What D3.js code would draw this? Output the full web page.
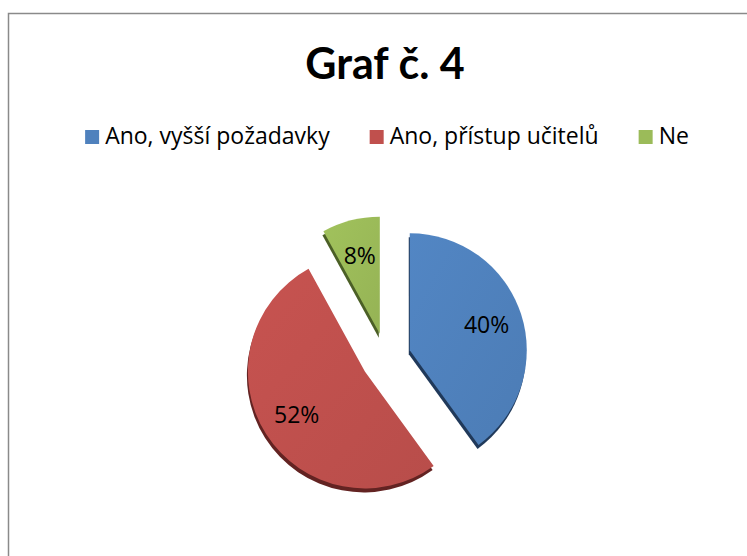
<!DOCTYPE html>
<html>
<head>
<meta charset="utf-8">
<script src="https://cdn.jsdelivr.net/npm/d3@7"></script>
<style>
  body { margin: 0; background: #fff; }
  text { font-family: "Open Sans", Lato, sans-serif; }
  .title { font-family: Lato, "Open Sans", sans-serif; }
</style>
</head>
<body>
<div id="chart"></div>
<script>
// data
var categories = ["Ano, vyšší požadavky", "Ano, přístup učitelů", "Ne"];
var values = [40, 52, 8];
var labels = ["40%", "52%", "8%"];
var title = "Graf č. 4";

var width = 747, height = 556;
var colors = ["#4f81bd", "#c0504d", "#9bbb59"];
var shades = ["#20395a", "#632322", "#4b5f26"];

var svg = d3.select("#chart")
  .append("svg")
    .attr("width", width)
    .attr("height", height);

// chart frame
svg.append("rect")
  .attr("x", 8.5).attr("y", 13.5)
  .attr("width", 760).attr("height", 560)
  .attr("fill", "#fff")
  .attr("stroke", "#8a8a8a")
  .attr("stroke-width", 1.5);

// title
svg.append("text")
  .attr("class", "title")
  .attr("x", 385).attr("y", 79)
  .attr("text-anchor", "middle")
  .style("font-size", "43px")
  .style("font-weight", "bold")
  .text(title);

// legend - measure then center
var legend = svg.append("g");
var items = legend.selectAll("g")
  .data(categories).enter()
  .append("g");
items.append("rect")
  .attr("y", 130).attr("width", 14).attr("height", 14)
  .attr("fill", function(d, i) { return colors[i]; });
items.append("text")
  .attr("x", 20).attr("y", 144)
  .style("font-size", "23px")
  .text(function(d) { return d; });
var xpos = 0;
items.each(function() {
  var w = d3.select(this).select("text").node().getComputedTextLength();
  d3.select(this).attr("transform", "translate(" + xpos + ",0)");
  xpos += 20 + w + 40;
});
var legendW = xpos - 40;
legend.attr("transform", "translate(" + (387 - legendW / 2) + ",0)");

// gradients
var defs = svg.append("defs");
colors.forEach(function(c, i) {
  var g = defs.append("linearGradient")
    .attr("id", "grad" + i)
    .attr("x1", "0%").attr("y1", "0%")
    .attr("x2", "100%").attr("y2", "100%");
  g.append("stop").attr("offset", "0%").attr("stop-color", d3.color(c).brighter(0.1));
  g.append("stop").attr("offset", "100%").attr("stop-color", d3.color(c).darker(0.12));
});

// pie
var cx = 386, cy = 358, r = 117, explode = 25;
var pie = d3.pie().sort(null)(values);
var arc = d3.arc().innerRadius(0).outerRadius(r);
var labelArc = d3.arc().innerRadius(r * 0.69).outerRadius(r * 0.69);

function offset(d) {
  var a = (d.startAngle + d.endAngle) / 2;
  return [Math.sin(a) * explode, -Math.cos(a) * explode];
}

var g = svg.append("g")
  .attr("transform", "translate(" + cx + "," + cy + ")");

var slices = g.selectAll(".slice")
  .data(pie).enter()
  .append("g")
  .attr("class", "slice")
  .attr("transform", function(d) {
    var o = offset(d);
    return "translate(" + o[0] + "," + o[1] + ")";
  });

// side (depth) of each slice
slices.append("path")
  .attr("d", arc)
  .attr("transform", "translate(-1,4)")
  .attr("fill", function(d, i) { return shades[i]; });

slices.append("path")
  .attr("d", arc)
  .attr("fill", function(d, i) { return "url(#grad" + i + ")"; });

slices.append("text")
  .attr("transform", function(d) { return "translate(" + labelArc.centroid(d) + ")"; })
  .attr("text-anchor", "middle")
  .attr("dy", "0.35em")
  .style("font-size", "23px")
  .text(function(d, i) { return labels[i]; });
</script>
</body>
</html>
